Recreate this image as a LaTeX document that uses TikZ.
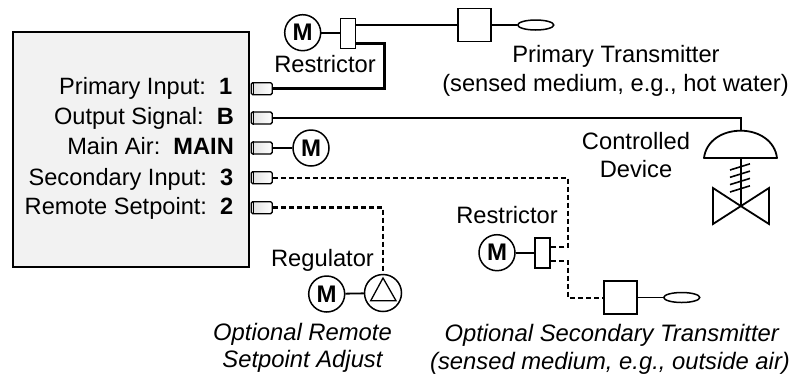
\documentclass[tikz,border=0pt]{standalone}
\usepackage{fontspec}
\setmainfont{Liberation Sans}
\usetikzlibrary{shapes.geometric}
\tikzset{
  lab/.style={inner sep=0pt,anchor=base,font=\fontsize{23.7}{27}\selectfont,align=center},
  labr/.style={inner sep=0pt,anchor=base east,font=\fontsize{23.6}{27}\selectfont},
  ital/.style={lab,font=\fontsize{23.8}{27}\selectfont\itshape},
  motor/.style={draw=black,line width=1.5pt,circle,minimum size=36pt,inner sep=0pt,font=\fontsize{24}{27}\selectfont\bfseries},
  port/.style={draw=black,line width=1.4pt,left color=black!12,right color=white,rounded corners=1.5pt,minimum width=21pt,minimum height=12pt,inner sep=0pt,anchor=west},
  restr/.style={draw=black,line width=1.8pt,fill=white,minimum width=15pt,minimum height=30pt,inner sep=0pt},
  xmit/.style={draw=black,line width=1.8pt,fill=white,minimum width=33pt,minimum height=33pt,inner sep=0pt},
  bulb/.style={draw=black,line width=1.5pt,ellipse,minimum width=36pt,minimum height=10pt,inner sep=0pt,anchor=west},
  thinl/.style={draw=black,line width=1.8pt},
  thickl/.style={draw=black,line width=2.7pt},
  dashl/.style={draw=black,line width=2pt,dash pattern=on 5pt off 3pt},
  dashk/.style={draw=black,line width=2.8pt,dash pattern=on 5pt off 3pt},
}
\begin{document}
\begin{tikzpicture}[x=1pt,y=-1pt]
\useasboundingbox (0,0) rectangle (804,376);
% controller
\node[draw=black,line width=2pt,fill=black!5,minimum width=236pt,minimum height=235pt,inner sep=0pt] (ctrl) at (131,149) {};
\foreach \n/\y in {pa/88.7,pb/118,pc/148,pd/177.7,pe/207.7}{
  \node[port] (\n) at (250.5,\y) {};
  \draw[line width=1.2pt] ([xshift=3pt]\n.north west) -- ([xshift=3pt]\n.south west);
}
\node[labr] (l1) at (232.5,94.3) {Primary Input:\ \ \textbf{1}};
\node[labr] (l2) at (234,124) {Output Signal:\ \ \textbf{B}};
\node[labr] (l3) at (234,154) {Main Air:\ \ \textbf{MAIN}};
\node[labr] (l4) at (233.5,185) {Secondary Input:\ \ \textbf{3}};
\node[labr] (l5) at (233.5,214.3) {Remote Setpoint:\ \ \textbf{2}};
% primary
\node[motor] (m1) at (302.7,32.7) {M};
\node[restr] (r1) at (348,33.5) {};
\node[xmit] (x1) at (474.5,25) {};
\node[bulb] (b1) at (517,25) {};
\draw[thinl] (m1) -- (r1.west |- m1);
\draw[thickl] (r1.east |- x1) -- (x1.west);
\draw[thinl] (x1.east) -- (b1.west);
\coordinate (c1) at (384.7,43.7);
\draw[thickl] (r1.east |- c1) -- (c1) |- (pa.east);
\node[lab] (t1) at (325,72.7) {Restrictor};
\node[lab] (t2) at (616,62.7) {Primary Transmitter};
\node[lab] (t3) at (615.5,91.7) {(sensed medium, e.g., hot water)};
% output signal to valve
\coordinate (dometop) at (740.7,130.7);
\coordinate (domel) at (704,158);
\coordinate (domer) at (777,158);
\coordinate (valve) at (740.7,206);
\draw[thinl] (pb.east) -| (dometop);
\draw[line width=1.8pt,line join=round] (domel) .. controls (706,141) and (722,130.7) .. (dometop) .. controls (759,130.7) and (775,141) .. (domer) -- cycle;
\draw[thinl] (740.7,158) -- (valve);
\foreach \y in {170,177.3,184.6,192}{
  \draw[line width=1.6pt] (730,\y) -- (750,\y-6.2);
}
\draw[line width=1.8pt,line join=miter] (valve) -- (713,188) -- (713,224) -- (769,188) -- (769,224) -- cycle;
\node[lab] (t4) at (636,149) {Controlled};
\node[lab] (t5) at (636,177.3) {Device};
% main air
\node[motor] (m2) at (311,148) {M};
\draw[thinl] (pc.east) -- (m2);
% secondary
\node[motor] (m3) at (497,252.7) {M};
\node[restr] (r3) at (542.5,253.3) {};
\node[xmit] (x3) at (620.2,297.5) {};
\node[bulb] (b3) at (663,297.5) {};
\draw[thinl] (m3) -- (r3.west |- m3);
\coordinate (c3a) at (568,247);
\coordinate (c3b) at (568,260.7);
\draw[dashl] (pd.east) -| (c3a) -- (r3.east |- c3a);
\draw[dashl] (r3.east |- c3b) -- (c3b) |- (x3.west);
\draw[thinl] (x3.east) -- (b3.west);
\node[lab] (t6) at (507,223) {Restrictor};
\node[ital] (t7) at (611.7,341) {Optional Secondary Transmitter};
\node[ital] (t8) at (610,369) {(sensed medium, e.g., outside air)};
% remote
\node[motor] (m4) at (326.7,294) {M};
\node[motor,minimum size=37pt] (reg) at (383,293) {};
\draw[line width=1.3pt,line join=miter] (370.7,300.7) -- (396,300.7) -- (383,278) -- cycle;
\draw[thinl] (m4) -- (reg);
\draw[dashk] (pe.east) -| (reg.north);
\node[lab] (t9) at (322.5,266) {Regulator};
\node[ital] (t10) at (302.5,340) {Optional Remote};
\node[ital] (t11) at (302.5,367.5) {Setpoint Adjust};
\end{tikzpicture}
\end{document}
